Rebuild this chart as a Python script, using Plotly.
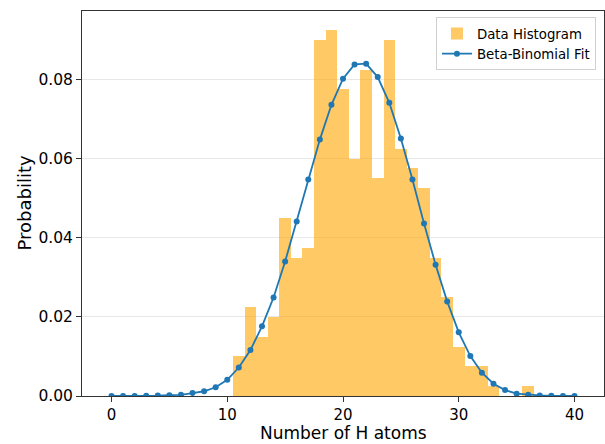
import plotly.graph_objects as go

# Histogram data (probability per integer bin)
hist_x = [11, 12, 13, 14, 15, 16, 17, 18, 19, 20, 21, 22, 23, 24, 25, 26, 27, 28, 29, 30, 31, 32, 33, 36]
hist_p = [0.0100, 0.0225, 0.0150, 0.0200, 0.0450, 0.0350, 0.0375, 0.0900, 0.0925, 0.0775,
          0.0600, 0.0825, 0.0550, 0.0900, 0.0625, 0.0575, 0.0525, 0.0350, 0.0250, 0.0125,
          0.0075, 0.0075, 0.0025, 0.0025]

# Beta-binomial fit
fit_x = list(range(0, 41))
fit_p = [0.0, 0.0, 0.00002, 0.00005, 0.0001, 0.0002, 0.0003, 0.00075, 0.0012, 0.0022,
         0.0041, 0.0072, 0.0116, 0.0176, 0.0249, 0.0340, 0.0441, 0.0547, 0.0648, 0.0736,
         0.0802, 0.0838, 0.0840, 0.0806, 0.0741, 0.0651, 0.0547, 0.0436, 0.0332, 0.0239,
         0.0161, 0.0101, 0.0059, 0.0031, 0.0015, 0.0006, 0.0003, 0.00015, 0.00005, 0.00002, 0.0]

x_ticks = [0, 10, 20, 30, 40]
y_ticks = [0.00, 0.02, 0.04, 0.06, 0.08]
x_title = "Number of H atoms"
y_title = "Probability"

FONT = "DejaVu Sans"

fig = go.Figure()
fig.add_trace(go.Bar(
    x=hist_x, y=hist_p, width=1.0,
    marker=dict(color="rgba(255,165,0,0.6)", line=dict(width=0)),
    name="Data Histogram",
))
fig.add_trace(go.Scatter(
    x=fit_x, y=fit_p, mode="lines+markers",
    line=dict(color="#1f77b4", width=1.8),
    marker=dict(color="#1f77b4", size=6),
    name="Beta-Binomial Fit",
))

fig.update_layout(
    width=605, height=444,
    margin=dict(l=82, r=1, t=11, b=48),
    paper_bgcolor="white", plot_bgcolor="white",
    font=dict(family=FONT, size=15.5, color="#000000"),
    bargap=0,
    showlegend=True,
    legend=dict(
        x=0.9846, y=0.9838, xanchor="right", yanchor="top",
        bgcolor="rgba(255,255,255,0.8)", bordercolor="#d0d0d0", borderwidth=1,
        font=dict(family=FONT, size=13.3, color="#000000"),
        tracegroupgap=0,
    ),
    annotations=[
        dict(text=x_title, xref="paper", yref="paper", x=0.5, y=0,
             xanchor="center", yanchor="bottom", yshift=-47.5, showarrow=False,
             font=dict(family=FONT, size=17, color="#000000"), borderpad=0),
        dict(text=y_title, xref="paper", yref="paper", x=0, y=0.5,
             xanchor="center", yanchor="middle", xshift=-58, textangle=-90,
             showarrow=False, font=dict(family=FONT, size=18, color="#000000"), borderpad=0),
    ],
)
fig.update_xaxes(
    automargin=False,
    range=[-2.55, 42.55],
    tickvals=x_ticks, ticktext=[str(v) for v in x_ticks],
    tickfont=dict(family=FONT, size=15),
    ticks="outside", ticklen=5, tickwidth=1, tickcolor="#333333",
    showline=True, linecolor="#333333", linewidth=1, mirror=True,
    showgrid=False, zeroline=False,
)
fig.update_yaxes(
    automargin=False,
    range=[0, 0.0973],
    tickvals=y_ticks, ticktext=[f"{v:.2f}" for v in y_ticks],
    ticks="outside", ticklen=5, tickwidth=1, tickcolor="#333333",
    showline=True, linecolor="#333333", linewidth=1, mirror=True,
    showgrid=True, gridcolor="#e8e8e8", gridwidth=1, zeroline=False,
)

fig.write_html("out.html")
